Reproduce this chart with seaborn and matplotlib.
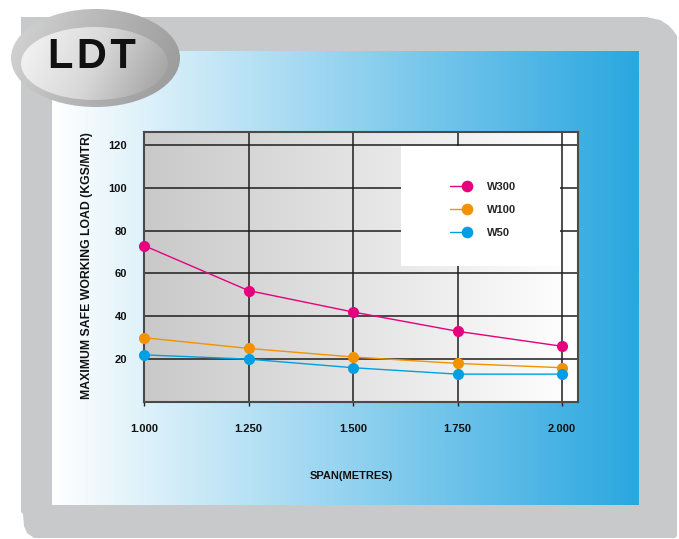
import numpy as np
import pandas as pd
import matplotlib
matplotlib.use("Agg")
import matplotlib.pyplot as plt
import seaborn as sns
from matplotlib.patches import Ellipse, Polygon, Rectangle
from matplotlib.colors import LinearSegmentedColormap
from matplotlib.legend_handler import HandlerBase
from matplotlib.lines import Line2D

# ---------------- data ----------------
span = [1.0, 1.25, 1.5, 1.75, 2.0]
w300 = [73, 52, 42, 33, 26]
w100 = [30, 25, 21, 18, 16]
w50 = [22, 20, 16, 13, 13]
series_names = ["W300", "W100", "W50"]
series_colors = ["#e5007e", "#f39200", "#009fe3"]
x_tick_labels = ["1.000", "1.250", "1.500", "1.750", "2.000"]
y_ticks = [20, 40, 60, 80, 100, 120]
x_label = "SPAN(METRES)"
y_label = "MAXIMUM SAFE WORKING LOAD (KGS/MTR)"
badge_text = "L\u200aD\u200aT"

df = pd.DataFrame({
    "span": span * 3,
    "load": w300 + w100 + w50,
    "series": [s for s in series_names for _ in span],
})

sns.set_theme(style="white")
plt.rcParams["font.family"] = ["Liberation Sans", "DejaVu Sans"]
plt.rcParams["font.weight"] = "bold"

W, H = 679, 539
fig = plt.figure(figsize=(W / 100, H / 100), dpi=100)
fig.patch.set_facecolor("white")

# ---------------- background decoration ----------------
bg = fig.add_axes([0, 0, 1, 1])
bg.axis("off")

frame = Polygon([(21, 17), (646, 17), (660, 20), (668, 25), (673, 30), (677, 36),
                 (677, 536), (675, 538), (34, 538), (27, 533), (24, 526), (23, 514),
                 (21, 512)], closed=True, fc="#c8c9cb", ec="none")
bg.add_patch(frame)

blue_cmap = LinearSegmentedColormap.from_list("bl", ["#ffffff", "#2aa7e0"])
grad = np.linspace(0, 1, 512).reshape(1, -1)
bg.imshow(grad, extent=(52, 639, 505, 51), cmap=blue_cmap, aspect="auto", zorder=1)

# badge
outer_cmap = LinearSegmentedColormap.from_list("og", ["#d6d6d6", "#b4b4b4", "#989898"])
inner_cmap = LinearSegmentedColormap.from_list("ig", ["#f6f6f6", "#d8d8d8", "#9c9c9c"])
outer = Ellipse((95.5, 58), 169, 98, fc="none", ec="none", zorder=2)
inner = Ellipse((94.5, 63.5), 147, 73, fc="none", ec="none", zorder=3)
bg.add_patch(outer)
bg.add_patch(inner)
gx = np.linspace(0, 1, 256)
gy = np.linspace(0, 1, 128)
G = np.clip(0.8 * gx[None, :] + 0.2 * gy[:, None], 0, 1)
im1 = bg.imshow(G, extent=(11, 180, 107, 9), cmap=outer_cmap, aspect="auto", zorder=2)
im1.set_clip_path(outer)
im2 = bg.imshow(G, extent=(21, 168, 100, 27), cmap=inner_cmap, aspect="auto", zorder=3)
im2.set_clip_path(inner)
bg.text(92, 57.5, badge_text, fontsize=30, fontweight="bold", color="#111111",
        ha="center", va="center", zorder=4)
bg.set_xlim(0, W)
bg.set_ylim(H, 0)

# ---------------- main chart ----------------
ax = fig.add_axes([144 / W, (H - 402) / H, 434 / W, 270 / H])
gray_cmap = LinearSegmentedColormap.from_list("gr", ["#c9c9c9", "#e4e4e4", "#ffffff"])
ax.imshow(grad, extent=(0, 1, 0, 1), transform=ax.transAxes, cmap=gray_cmap,
          aspect="auto", zorder=0)

palette = dict(zip(series_names, series_colors))
sns.lineplot(data=df, x="span", y="load", hue="series", hue_order=series_names,
             palette=palette, marker="o", markersize=8, markeredgewidth=0,
             linewidth=1, ax=ax, legend=False, zorder=3, clip_on=False)

ax.set_xlim(1.0, 2.038)
ax.set_ylim(0, 126)
ax.set_xticks(span)
ax.set_xticklabels(x_tick_labels)
ax.set_yticks(y_ticks)
ax.set_yticklabels([str(v) for v in y_ticks])
ax.set_axisbelow(True)
ax.grid(True, color="#1e1e1e", linewidth=1.1)
for s in ax.spines.values():
    s.set_visible(True)
    s.set_color("#4a4a4a")
    s.set_linewidth(1.5)
ax.tick_params(axis="y", length=0, pad=12, labelsize=8, labelcolor="#111111")
ax.tick_params(axis="x", length=3, width=1, color="#222222", direction="out",
               pad=13, labelsize=8, labelcolor="#111111", bottom=True)
for t in ax.get_xticklabels() + ax.get_yticklabels():
    t.set_fontweight("bold")

ax.set_xlabel(x_label, fontsize=8, fontweight="bold", color="#111111")
ax.xaxis.set_label_coords(0.477, -0.256)
ax.set_ylabel(y_label, fontsize=8.8, fontweight="bold", color="#111111")
ax.yaxis.set_label_coords(-0.1175, 0.504)

# white legend panel
ax.add_patch(Rectangle((0.592, 0.504), 0.366, 0.444, transform=ax.transAxes,
                       fc="white", ec="none", zorder=1.5))


class RightMarkerHandler(HandlerBase):
    def create_artists(self, legend, orig_handle, xdescent, ydescent, width,
                       height, fontsize, trans):
        y = (height - ydescent) / 2
        x0, x1 = -xdescent, -xdescent + width
        line = Line2D([x0, x1], [y, y], color=orig_handle.get_color(),
                      lw=orig_handle.get_linewidth())
        mk = Line2D([x1], [y], ls="none", marker="o",
                    markersize=orig_handle.get_markersize(),
                    color=orig_handle.get_color(), markeredgewidth=0)
        line.set_transform(trans)
        mk.set_transform(trans)
        return [line, mk]


handles = [Line2D([], [], color=c, marker="o", markersize=8.4, markeredgewidth=0, lw=1)
           for c in series_colors]
ax.legend(handles, series_names, loc="upper left", bbox_to_anchor=(0.705, 0.815),
          frameon=False, borderpad=0, borderaxespad=0, handlelength=1.53,
          handletextpad=1.8, labelspacing=1.17,
          prop={"weight": "bold", "size": 8},
          handler_map={Line2D: RightMarkerHandler()})

fig.savefig("out.png", dpi=100, facecolor="white")
